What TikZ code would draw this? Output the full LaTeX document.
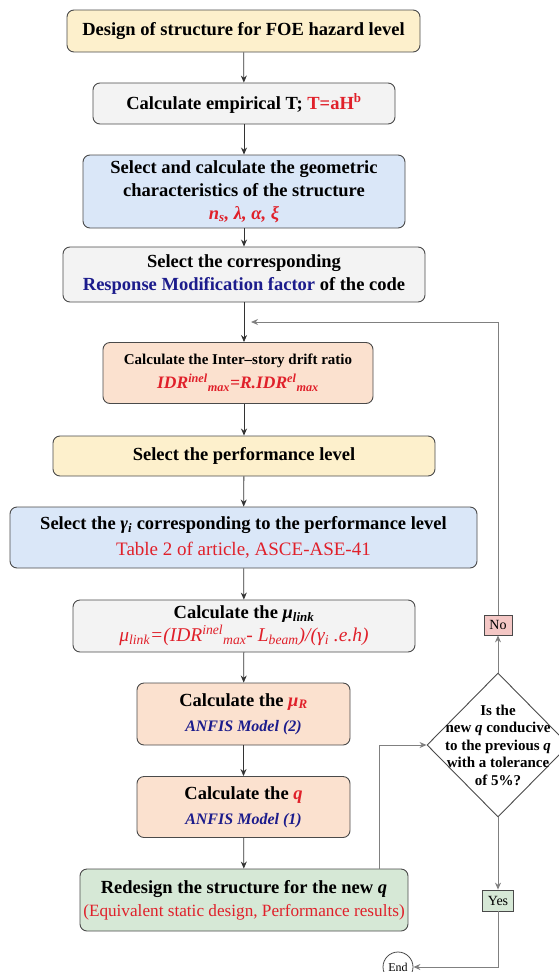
\documentclass[tikz,border=0pt]{standalone}
\usepackage{fontspec}
\setmainfont{Liberation Serif}
\usepackage{tikz}
\usetikzlibrary{arrows.meta,shapes.geometric}

\definecolor{boxyellow}{HTML}{FDF0CC}
\definecolor{boxgray}{HTML}{F3F3F3}
\definecolor{boxblue}{HTML}{DAE7F8}
\definecolor{boxorange}{HTML}{FBE1CF}
\definecolor{boxgreen}{HTML}{D6E8D6}
\definecolor{boxpink}{HTML}{F4C7C5}
\definecolor{txtred}{HTML}{E0202A}
\definecolor{txtblue}{HTML}{1C1C8C}
\definecolor{edge}{HTML}{4A4A4A}

\tikzset{
	stepbox/.style={draw=edge, line width=0.9pt, rounded corners=7pt, align=center, inner sep=0pt,
		font=\fontsize{18.5}{23}\selectfont\bfseries},
	arr/.style={draw=black!80, line width=0.8pt, -{Stealth[length=7pt,width=6pt]}},
	loopline/.style={draw=black!50, line width=1pt, -{Stealth[length=7pt,width=6pt]}},
	tag/.style={draw=edge, line width=0.8pt, inner sep=0pt, font=\fontsize{14}{16}\selectfont}
}

\begin{document}
\begin{tikzpicture}[x=1pt,y=-1pt]
			%%%%% START %%%%%
			\useasboundingbox (0,0) rectangle (558,972);
			
			\node[stepbox, fill=boxyellow, minimum width=353pt, minimum height=42pt] (design) at (243.5,31) {Design of structure for FOE hazard level};
			\node[stepbox, fill=boxgray, minimum width=302pt, minimum height=41pt] (empT) at (244,103.5) {Calculate empirical T; {\color{txtred}T=aH\textsuperscript{b}}};
			\node[stepbox, fill=boxblue, minimum width=322pt, minimum height=73pt] (geom) at (244,191.5)
				{Select and calculate the geometric\\characteristics of the structure\\{\color{txtred}\itshape n\textsubscript{s}, λ, α, ξ}};
			\node[stepbox, fill=boxgray, minimum width=362pt, minimum height=55pt] (rfac) at (244,274.5)
				{Select the corresponding\\{\color{txtblue}Response Modification factor} of the code};
			\node[stepbox, fill=boxorange, minimum width=270pt, minimum height=61pt] (idr) at (238,373)
				{{\fontsize{15}{17}\selectfont Calculate the Inter–story drift ratio}\\[1pt]
				{\color{txtred}\itshape\fontsize{17.5}{20}\selectfont IDR\textsuperscript{inel}\textsubscript{max}=R.IDR\textsuperscript{el}\textsubscript{max}}};
			\node[stepbox, fill=boxyellow, minimum width=382pt, minimum height=40pt] (perf) at (244,456) {Select the performance level};
			\node[stepbox, fill=boxblue, minimum width=467pt, minimum height=61pt] (gamma) at (243.5,537.5)
				{Select the {\itshape γ\textsubscript{i}} corresponding to the performance level\\[3pt]
				{\color{txtred}\mdseries\fontsize{19}{21}\selectfont Table 2 of article, ASCE-ASE-41}};
			\node[stepbox, fill=boxgray, minimum width=342pt, minimum height=52pt] (mulink) at (244,626)
				{Calculate the {\itshape μ\textsubscript{link}}\\
				{\color{txtred}\mdseries\itshape\fontsize{19.5}{22}\selectfont μ\textsubscript{link}=(IDR\textsuperscript{inel}\textsubscript{max}- L\textsubscript{beam})/(γ\textsubscript{i} .e.h)}};
			\node[stepbox, fill=boxorange, minimum width=213pt, minimum height=62pt] (muR) at (243.5,714)
				{Calculate the {\color{txtred}\itshape μ\textsubscript{R}}\\[2pt]{\color{txtblue}\itshape\fontsize{16}{18}\selectfont ANFIS Model (2)}};
			\node[stepbox, fill=boxorange, minimum width=213pt, minimum height=61pt] (qcalc) at (243.5,807)
				{Calculate the {\color{txtred}\itshape q}\\[2pt]{\color{txtblue}\itshape\fontsize{16}{18}\selectfont ANFIS Model (1)}};
			\node[stepbox, fill=boxgreen, minimum width=328pt, minimum height=62pt] (redesign) at (244,900)
				{Redesign the structure for the new {\itshape q}\\
				{\color{txtred}\mdseries\fontsize{17.2}{20}\selectfont(Equivalent static design, Performance results)}};
			
			\node[draw=edge, line width=0.9pt, diamond, inner sep=0pt, minimum width=142pt, minimum height=144pt] (check) at (498,745) {};
			\node[align=center, font=\fontsize{15}{17.5}\selectfont\bfseries] (checktext) at (check.center)
				{Is the\\new {\itshape q} conducive\\to the previous {\itshape q}\\with a tolerance\\of 5\%?};
			\node[tag, fill=boxpink, minimum width=28pt, minimum height=20pt] (no) at (498,625) {No};
			\node[tag, fill=boxgreen, minimum width=31pt, minimum height=21pt] (yes) at (498,900.5) {Yes};
			\node[draw=edge, line width=0.8pt, circle, inner sep=0pt, minimum size=30pt, font=\fontsize{12}{14}\selectfont] (theend) at (398,967) {End};
			
			\coordinate (loopin) at (251,322);
			
			\draw[arr] (design) -- (empT);
			\draw[arr] (empT) -- (geom);
			\draw[arr] (geom) -- (rfac);
			\draw[arr] (rfac.south) -- (rfac.south |- idr.north);
			\draw[arr] (idr.south -| perf.north) -- (perf.north);
			\draw[arr] (perf) -- (gamma);
			\draw[arr] (gamma) -- (mulink);
			\draw[arr] (mulink) -- (muR);
			\draw[arr] (muR) -- (qcalc);
			\draw[arr] (qcalc) -- (redesign);
			
			\draw[loopline] ([xshift=135pt]redesign.north) |- (check.west);
			\draw[loopline] (check.north) -- (no.south);
			\draw[loopline] (no.north) |- (loopin);
			\draw[loopline] (check.south) -- (yes.north);
			\draw[loopline] (yes.south) |- (theend.east);
			%%%%% END %%%%%
\end{tikzpicture}
\end{document}
